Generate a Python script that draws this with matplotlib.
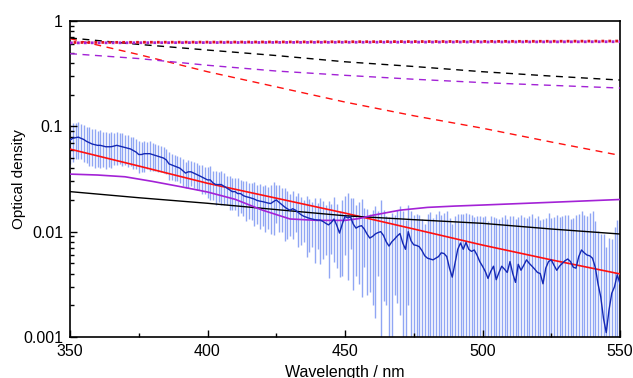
import numpy as np
import matplotlib.pyplot as plt
from matplotlib.ticker import FixedLocator, FixedFormatter, NullFormatter

plt.rcParams['font.family'] = ['Liberation Sans', 'DejaVu Sans']

# measured optical density, 1 nm steps from 350 to 550 nm
od_meas = [
    0.074, 0.077, 0.078, 0.079, 0.077, 0.075, 0.072, 0.070, 0.068, 0.067,
    0.066, 0.066, 0.065, 0.064, 0.064, 0.064, 0.065, 0.066, 0.065, 0.064,
    0.063, 0.062, 0.061, 0.059, 0.057, 0.054, 0.054, 0.055, 0.055, 0.055,
    0.054, 0.053, 0.052, 0.051, 0.050, 0.048, 0.044, 0.043, 0.042, 0.041,
    0.040, 0.038, 0.036, 0.037, 0.037, 0.036, 0.035, 0.034, 0.033, 0.032,
    0.031, 0.031, 0.029, 0.028, 0.028, 0.028, 0.027, 0.026, 0.025, 0.024,
    0.024, 0.023, 0.023, 0.022, 0.0215, 0.0212, 0.0208, 0.0204, 0.0198, 0.0195,
    0.0193, 0.0190, 0.0187, 0.0185, 0.0193, 0.0200, 0.0190, 0.0180, 0.0172, 0.0165,
    0.0160, 0.0165, 0.0160, 0.0152, 0.0145, 0.0140, 0.0137, 0.0134, 0.0132, 0.0130,
    0.0129, 0.0129, 0.0125, 0.0120, 0.0116, 0.0122, 0.0132, 0.0115, 0.0097, 0.0118,
    0.0140, 0.0135, 0.0138, 0.0118, 0.0108, 0.0112, 0.0114, 0.0106, 0.0095, 0.0087,
    0.0090, 0.0095, 0.0098, 0.0100, 0.0092, 0.0080, 0.0073, 0.0080, 0.0085, 0.0091,
    0.0096, 0.0078, 0.0068, 0.0100, 0.0082, 0.0075, 0.0074, 0.0072, 0.0066, 0.0059,
    0.0056, 0.0055, 0.0054, 0.0056, 0.0058, 0.0063, 0.0062, 0.0058, 0.0045, 0.0037,
    0.0050, 0.0068, 0.0078, 0.0068, 0.0079, 0.0068, 0.0065, 0.0067, 0.0060, 0.0052,
    0.0047, 0.0042, 0.0036, 0.0042, 0.0047, 0.0035, 0.0041, 0.0047, 0.0044, 0.0041,
    0.0052, 0.0040, 0.0033, 0.0049, 0.0043, 0.0048, 0.0054, 0.0050, 0.0047, 0.0044,
    0.0041, 0.0040, 0.0032, 0.0045, 0.0052, 0.0054, 0.0048, 0.0043, 0.0047, 0.0050,
    0.0053, 0.0055, 0.0052, 0.0046, 0.0045, 0.0058, 0.0067, 0.0063, 0.0060, 0.0059,
    0.0056, 0.0046, 0.0032, 0.0024, 0.0015, 0.0011, 0.0018, 0.0026, 0.0030, 0.0039,
    0.0032,
]
od_err = [
    0.030, 0.031, 0.029, 0.030, 0.028, 0.029, 0.027, 0.028, 0.026, 0.027,
    0.025, 0.026, 0.024, 0.025, 0.023, 0.024, 0.022, 0.023, 0.021, 0.022,
    0.020, 0.021, 0.019, 0.020, 0.018, 0.018, 0.017, 0.018, 0.016, 0.017,
    0.016, 0.015, 0.015, 0.014, 0.014, 0.013, 0.013, 0.012, 0.012, 0.011,
    0.011, 0.011, 0.010, 0.011, 0.010, 0.010, 0.010, 0.009, 0.010, 0.009,
    0.010, 0.011, 0.009, 0.010, 0.009, 0.010, 0.009, 0.008, 0.009, 0.008,
    0.008, 0.009, 0.008, 0.008, 0.009, 0.008, 0.008, 0.009, 0.008, 0.009,
    0.008, 0.009, 0.008, 0.009, 0.010, 0.008, 0.009, 0.008, 0.009, 0.008,
    0.007, 0.008, 0.006, 0.008, 0.007, 0.006, 0.008, 0.007, 0.006, 0.008,
    0.006, 0.008, 0.007, 0.006, 0.008, 0.006, 0.008, 0.007, 0.006, 0.008,
    0.008, 0.010, 0.007, 0.009, 0.007, 0.008, 0.009, 0.006, 0.007, 0.006,
    0.007, 0.008, 0.006, 0.0098, 0.007, 0.006, 0.0065, 0.007, 0.006, 0.007,
    0.008, 0.0078, 0.006, 0.008, 0.0075, 0.007, 0.0072, 0.0071, 0.0066, 0.0059,
    0.009, 0.010, 0.008, 0.009, 0.010, 0.008, 0.009, 0.010, 0.009, 0.008,
    0.009, 0.008, 0.007, 0.008, 0.007, 0.008, 0.008, 0.007, 0.008, 0.009,
    0.009, 0.010, 0.009, 0.010, 0.009, 0.010, 0.009, 0.009, 0.010, 0.009,
    0.009, 0.010, 0.010, 0.009, 0.010, 0.009, 0.008, 0.009, 0.010, 0.009,
    0.010, 0.009, 0.010, 0.009, 0.010, 0.008, 0.009, 0.010, 0.009, 0.009,
    0.009, 0.009, 0.008, 0.009, 0.010, 0.009, 0.009, 0.008, 0.008, 0.009,
    0.010, 0.008, 0.007, 0.007, 0.008, 0.006, 0.007, 0.006, 0.008, 0.009,
    0.010,
]
wl_meas = 350 + np.arange(len(od_meas))

# model curves
wl_curve = [350, 375, 400, 425, 450, 475, 500, 525, 550]
red_solid = [0.0608, 0.042, 0.0288, 0.0208, 0.0150, 0.0106, 0.00746, 0.0054, 0.00397]
black_solid = [0.024, 0.021, 0.0186, 0.0162, 0.01416, 0.013, 0.012, 0.0106, 0.0095]
red_dashed = [0.68, 0.48, 0.33, 0.237, 0.17, 0.126, 0.096, 0.071, 0.053]
black_dashed = [0.69, 0.60, 0.53, 0.47, 0.41, 0.37, 0.33, 0.30, 0.275]
purple_dashed = [0.49, 0.44, 0.38, 0.335, 0.305, 0.28, 0.26, 0.245, 0.231]
red_dotted = [0.625, 0.628, 0.63, 0.632, 0.635, 0.638, 0.64, 0.642, 0.645]
purple_dotted = [0.62, 0.622, 0.624, 0.626, 0.628, 0.63, 0.632, 0.634, 0.636]

wl_purple = [350, 360, 370, 380, 390, 400, 410, 420, 430, 440, 450, 455, 460,
             470, 480, 490, 500, 525, 550]
purple_solid = [0.0352, 0.0345, 0.0332, 0.030, 0.0268, 0.0238, 0.0203, 0.0160,
                0.0132, 0.0128, 0.0128, 0.0133, 0.0143, 0.0160, 0.0170, 0.0175,
                0.0179, 0.0190, 0.0202]

fig = plt.figure(figsize=(6.33, 3.78), dpi=100)
ax = fig.add_axes([70 / 633, 1 - 337 / 378, 550 / 633, 316 / 378])

ax.errorbar(wl_meas, od_meas, yerr=od_err, fmt='none', ecolor='#90a6f4',
            elinewidth=1.0, capsize=0, zorder=1)
ax.plot(wl_meas, od_meas, color='#1428b4', lw=1.0, zorder=4)

purple = '#a322d6'
ax.plot(wl_curve, red_solid, color='#ff1010', lw=1.2, zorder=3)
ax.plot(wl_curve, black_solid, color='black', lw=1.0, zorder=3)
ax.plot(wl_purple, purple_solid, color=purple, lw=1.2, zorder=3)
ax.plot(wl_curve, red_dashed, color='#ff1010', lw=1.0, ls=(0, (5, 4)), zorder=3)
ax.plot(wl_curve, black_dashed, color='black', lw=1.0, ls=(0, (5, 4)), zorder=3)
ax.plot(wl_curve, purple_dashed, color=purple, lw=1.0, ls=(0, (5, 4)), zorder=3)
ax.plot(wl_curve, purple_dotted, color=purple, lw=2.0, ls=(0, (1, 1.5)), zorder=3)
ax.plot(wl_curve, red_dotted, color='#e01020', lw=2.0, ls=(1.2, (1, 1.5)), zorder=3)

ax.set_yscale('log')
ax.set_xlim(350, 550)
ax.set_ylim(0.001, 1)

ax.set_xticks([350, 400, 450, 500, 550])
ax.set_xticks([375, 425, 475, 525], minor=True)
ax.yaxis.set_major_locator(FixedLocator([0.001, 0.01, 0.1, 1]))
ax.yaxis.set_major_formatter(FixedFormatter(['0.001', '0.01', '0.1', '1']))
ax.yaxis.set_minor_formatter(NullFormatter())

ax.tick_params(which='both', direction='in', top=False, right=False,
               labelsize=11.5, width=1.0)
ax.tick_params(which='major', length=5, pad=5)
ax.tick_params(which='minor', length=3)
for s in ax.spines.values():
    s.set_linewidth(1.2)

ax.set_xlabel('Wavelength / nm', fontsize=11.5, labelpad=4)
ax.set_ylabel('Optical density', fontsize=11, labelpad=-2)

fig.savefig('out.png', dpi=100)
